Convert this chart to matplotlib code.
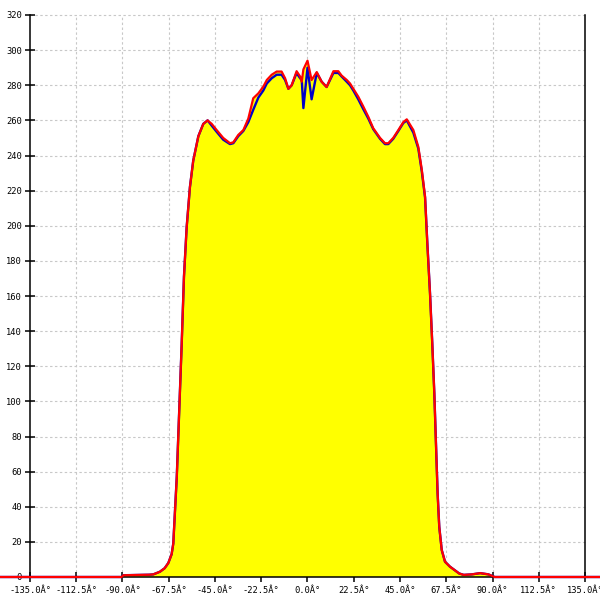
import numpy as np
import matplotlib.pyplot as plt

# --- Data (angle in degrees, value) ---
angles = [-150, -90.5, -89.5, -77, -75, -71.8, -69.5, -67.7, -66.1, -65.3,
          -63.6, -62.4, -61.2, -60.1, -58.8, -57.2, -55.6, -53.1, -50.7, -48.6,
          -46.6, -44.2, -41.0, -37.7, -36.1, -33.7, -31.2, -28.8, -26.4, -23.9,
          -21.5, -19.8, -17.4, -15.0, -12.6, -10.9, -9.3, -7.7, -5.3, -3.6,
          -2.8, -2.0, 0.0, 2.0, 4.5, 6.9, 9.3, 12.6, 15.0, 16.6,
          19.1, 20.7, 22.3, 24.7, 27.1, 29.6, 32.0, 35.3, 37.7, 39.3,
          41.7, 44.2, 46.6, 48.3, 51.5, 53.9, 55.6, 57.2, 58.3, 59.6,
          60.7, 61.7, 62.5, 63.3, 64.1, 65.3, 66.9, 69.3, 73.8, 76,
          80, 84, 88, 90, 91, 150]

red_vals = [0, 0, 1, 1.3, 1.5, 3, 5, 8, 13, 19,
            57, 95, 133, 171, 199, 222, 237, 251, 258, 260,
            258, 254.5, 250, 247, 247.5, 251.7, 254.5, 261, 272.6, 275.4,
            279.2, 283, 286, 287.8, 287.8, 284, 278, 280, 288, 285,
            282, 289, 294, 283, 287.5, 282, 279, 288, 288, 285.5,
            283, 281, 278, 273.5, 268, 262, 255.5, 250, 247, 247,
            250, 254.5, 259, 260.6, 254.5, 245, 232, 216.6, 190, 161.6,
            133, 104.6, 76, 47.7, 28.6, 15.4, 8.7, 5.9, 2, 1.2,
            1.5, 2.2, 1.5, 0.5, 0, 0]

blue_vals = [0, 0, 1, 1.3, 1.5, 3, 5, 8, 13, 19,
             57, 95, 133, 171, 199, 222, 237, 251, 258, 260,
             257, 253.5, 249, 246.5, 247, 251, 254, 259, 266, 273,
             277, 281, 284, 286, 286, 283, 278, 280, 287, 284,
             283, 267, 290, 272, 287, 282, 279, 287, 287, 285,
             282, 280, 277, 272, 266.5, 261, 255, 249.5, 246.5, 246.5,
             249.5, 254, 258.5, 260, 253, 244, 231, 216, 190, 161.6,
             133, 104.6, 76, 47.7, 28.6, 15.4, 8.7, 5.9, 2, 1.2,
             1.5, 2.2, 1.5, 0.5, 0, 0]

x_ticks = [-135.0, -112.5, -90.0, -67.5, -45.0, -22.5, 0.0, 22.5, 45.0, 67.5, 90.0, 112.5, 135.0]
x_labels = [f"{v:.1f}Â°" for v in x_ticks]
y_ticks = list(range(0, 321, 20))

# --- Figure: axes fill the canvas, spines placed at data positions ---
fig = plt.figure(figsize=(6, 6), dpi=100)
ax = fig.add_axes([0, 0, 1, 1])
ax.set_xlim(-135 - 30 / 2.05556, 135 + 15 / 2.05556)
ax.set_ylim(-23 / 1.75625, 320 + 15 / 1.75625)

# dotted grid, only inside the plotting frame
grid_kw = dict(color="#c8c8c8", lw=0.8, linestyle=(0, (2.2, 2.2)), zorder=1)
ax.hlines(y_ticks[1:], x_ticks[0], x_ticks[-1], **grid_kw)
ax.vlines(x_ticks[1:-1], 0, y_ticks[-1], **grid_kw)

ax.fill_between(angles, red_vals, 0, color="#ffff00", lw=0, zorder=2)
ax.plot(angles, blue_vals, color="#0000c8", lw=1.7, zorder=3)
ax.plot(angles, red_vals, color="#ff0000", lw=1.6, zorder=4, solid_joinstyle="round")

ax.spines["top"].set_visible(False)
ax.spines["left"].set_position(("data", -135))
ax.spines["right"].set_position(("data", 135))
ax.spines["bottom"].set_position(("data", 0))
ax.spines["left"].set_bounds(0, 320)
ax.spines["right"].set_bounds(0, 320)
ax.spines["bottom"].set_bounds(-135, 135)
for side in ["left", "right", "bottom"]:
    ax.spines[side].set_linewidth(1.1)
    ax.spines[side].set_zorder(2.5)
ax.spines["bottom"].set_zorder(3.5)

ax.set_xticks(x_ticks)
ax.set_xticklabels(x_labels)
ax.set_yticks(y_ticks)
ax.set_yticklabels([str(v) for v in y_ticks])
ax.tick_params(axis="both", direction="inout", length=7, width=1.1,
               labelsize=6.3, colors="black")
ax.tick_params(axis="x", pad=3)
ax.tick_params(axis="y", pad=2.5, right=False)
for lab in ax.get_xticklabels() + ax.get_yticklabels():
    lab.set_fontfamily("DejaVu Sans Mono")

fig.savefig("out.png", dpi=100)
